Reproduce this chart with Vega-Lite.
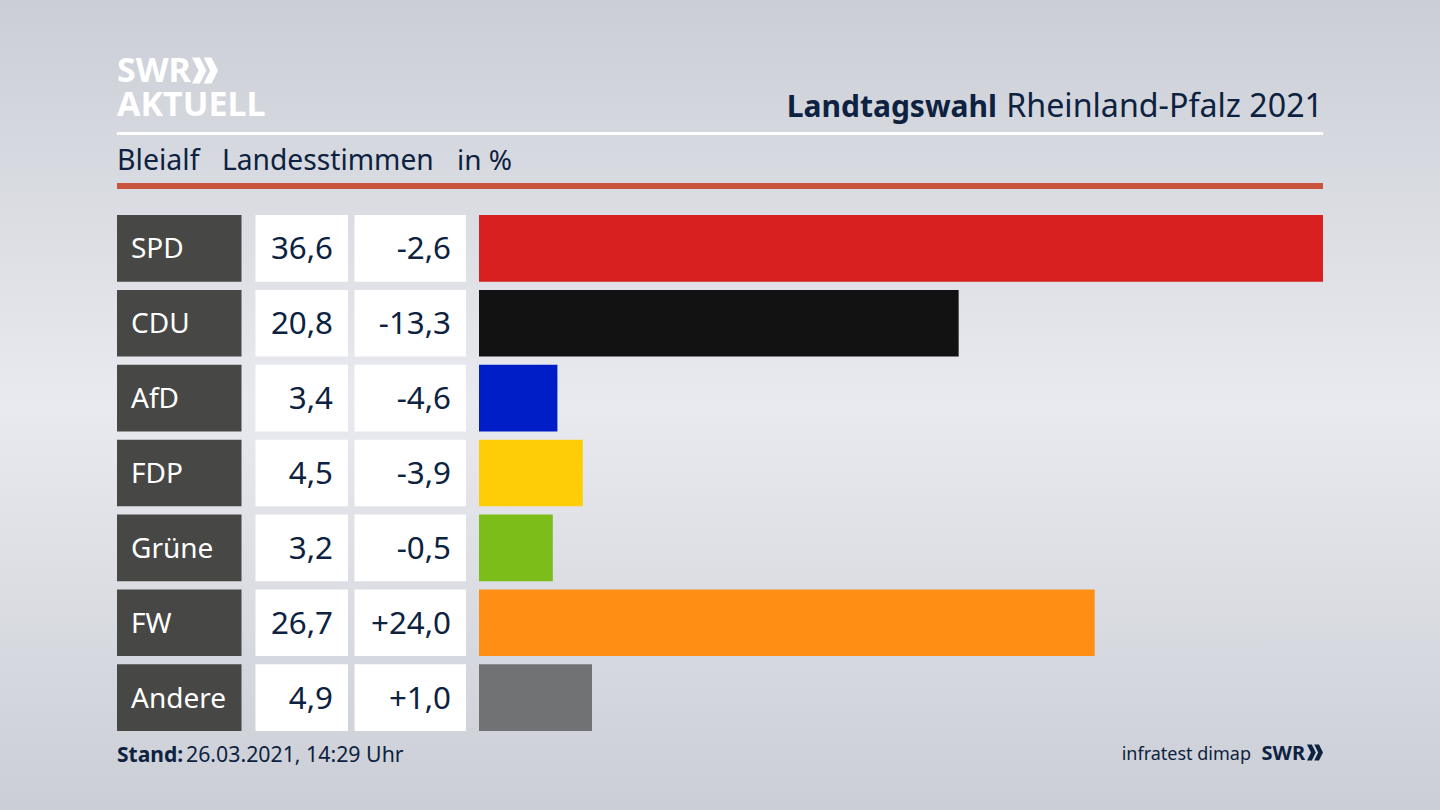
{
  "$schema": "https://vega.github.io/schema/vega-lite/v6.json",
  "width": 1440,
  "height": 810,
  "padding": 0,
  "autosize": {"type": "fit", "contains": "padding"},
  "view": {"stroke": null, "fill": {"gradient": "linear", "x1": 0, "y1": 0, "x2": 0, "y2": 1, "stops": [{"offset": 0, "color": "#cbced6"}, {"offset": 0.5, "color": "#e9eaef"}, {"offset": 1, "color": "#cbced6"}]}},
  "config": {
    "axis": {"disable": true},
    "locale": {"number": {"decimal": ",", "thousands": ".", "grouping": [3], "currency": ["", " €"], "minus": "-"}},
    "text": {"font": "Noto Sans", "color": "#0d2240"}
  },
  "data": {"values": [
    {"partei": "SPD", "ergebnis": 36.6, "diff": -2.6},
    {"partei": "CDU", "ergebnis": 20.8, "diff": -13.3},
    {"partei": "AfD", "ergebnis": 3.4, "diff": -4.6},
    {"partei": "FDP", "ergebnis": 4.5, "diff": -3.9},
    {"partei": "Grüne", "ergebnis": 3.2, "diff": -0.5},
    {"partei": "FW", "ergebnis": 26.7, "diff": 24.0},
    {"partei": "Andere", "ergebnis": 4.9, "diff": 1.0}
  ]},
  "resolve": {"scale": {"x": "independent", "y": "independent", "color": "independent", "shape": "independent", "size": "independent"}},
  "layer": [
    {
      "mark": {"type": "bar", "color": "#474745"},
      "encoding": {
        "x": {"datum": 117, "type": "quantitative", "scale": {"domain": [0, 1440]}},
        "x2": {"datum": 241.5},
        "y": {"field": "partei", "type": "nominal", "scale": {"type": "band", "domain": ["SPD", "CDU", "AfD", "FDP", "Grüne", "FW", "Andere"], "range": [215, 731], "paddingInner": 0.11, "paddingOuter": 0}}
      }
    },
    {
      "mark": {"type": "bar", "color": "#ffffff"},
      "encoding": {
        "x": {"datum": 255.5, "type": "quantitative", "scale": {"domain": [0, 1440]}},
        "x2": {"datum": 348},
        "y": {"field": "partei", "type": "nominal", "scale": {"type": "band", "domain": ["SPD", "CDU", "AfD", "FDP", "Grüne", "FW", "Andere"], "range": [215, 731], "paddingInner": 0.11, "paddingOuter": 0}}
      }
    },
    {
      "mark": {"type": "bar", "color": "#ffffff"},
      "encoding": {
        "x": {"datum": 354.5, "type": "quantitative", "scale": {"domain": [0, 1440]}},
        "x2": {"datum": 466},
        "y": {"field": "partei", "type": "nominal", "scale": {"type": "band", "domain": ["SPD", "CDU", "AfD", "FDP", "Grüne", "FW", "Andere"], "range": [215, 731], "paddingInner": 0.11, "paddingOuter": 0}}
      }
    },
    {
      "mark": {"type": "bar"},
      "encoding": {
        "x": {"field": "ergebnis", "type": "quantitative", "scale": {"domain": [0, 36.6], "range": [479, 1323]}},
        "y": {"field": "partei", "type": "nominal", "scale": {"type": "band", "domain": ["SPD", "CDU", "AfD", "FDP", "Grüne", "FW", "Andere"], "range": [215, 731], "paddingInner": 0.11, "paddingOuter": 0}},
        "color": {"field": "partei", "type": "nominal", "legend": null, "scale": {"domain": ["SPD", "CDU", "AfD", "FDP", "Grüne", "FW", "Andere"], "range": ["#d7201f", "#121212", "#001ec8", "#ffcd08", "#7cbd1a", "#ff8f14", "#717274"]}}
      }
    },
    {
      "mark": {"type": "text", "align": "left", "baseline": "middle", "dy": 2, "fontSize": 28, "color": "#ffffff"},
      "encoding": {
        "x": {"datum": 131, "type": "quantitative", "scale": {"domain": [0, 1440]}},
        "y": {"field": "partei", "type": "nominal", "scale": {"type": "band", "domain": ["SPD", "CDU", "AfD", "FDP", "Grüne", "FW", "Andere"], "range": [215, 731], "paddingInner": 0.11, "paddingOuter": 0}},
        "text": {"field": "partei", "type": "nominal"}
      }
    },
    {
      "mark": {"type": "text", "align": "right", "baseline": "middle", "dy": 2, "fontSize": 31.3},
      "encoding": {
        "x": {"datum": 333, "type": "quantitative", "scale": {"domain": [0, 1440]}},
        "y": {"field": "partei", "type": "nominal", "scale": {"type": "band", "domain": ["SPD", "CDU", "AfD", "FDP", "Grüne", "FW", "Andere"], "range": [215, 731], "paddingInner": 0.11, "paddingOuter": 0}},
        "text": {"field": "ergebnis", "type": "quantitative", "format": ".1f"}
      }
    },
    {
      "mark": {"type": "text", "align": "right", "baseline": "middle", "dy": 2, "fontSize": 31.3},
      "encoding": {
        "x": {"datum": 451, "type": "quantitative", "scale": {"domain": [0, 1440]}},
        "y": {"field": "partei", "type": "nominal", "scale": {"type": "band", "domain": ["SPD", "CDU", "AfD", "FDP", "Grüne", "FW", "Andere"], "range": [215, 731], "paddingInner": 0.11, "paddingOuter": 0}},
        "text": {"field": "diff", "type": "quantitative", "format": "+.1f"}
      }
    },
    {
      "data": {"values": [{"linie": "weiss"}]},
      "mark": {"type": "rule", "color": "#ffffff", "strokeWidth": 3},
      "encoding": {
        "x": {"datum": 117, "type": "quantitative", "scale": {"domain": [0, 1440]}},
        "x2": {"datum": 1323},
        "y": {"datum": 133.5, "type": "quantitative", "scale": {"domain": [810, 0]}}
      }
    },
    {
      "data": {"values": [{"linie": "rot"}]},
      "mark": {"type": "rule", "color": "#c9533c", "strokeWidth": 6},
      "encoding": {
        "x": {"datum": 117, "type": "quantitative", "scale": {"domain": [0, 1440]}},
        "x2": {"datum": 1323},
        "y": {"datum": 186, "type": "quantitative", "scale": {"domain": [810, 0]}}
      }
    },
    {
      "data": {"values": [{"t": "SWR"}]},
      "mark": {"type": "text", "align": "left", "baseline": "alphabetic", "fontSize": 34, "fontWeight": "bold", "color": "#ffffff"},
      "encoding": {
        "x": {"datum": 117, "type": "quantitative", "scale": {"domain": [0, 1440]}},
        "y": {"datum": 82, "type": "quantitative", "scale": {"domain": [810, 0]}},
        "text": {"field": "t"}
      }
    },
    {
      "data": {"values": [{"t": "AKTUELL"}]},
      "mark": {"type": "text", "align": "left", "baseline": "alphabetic", "fontSize": 34, "fontWeight": "bold", "color": "#ffffff"},
      "encoding": {
        "x": {"datum": 117, "type": "quantitative", "scale": {"domain": [0, 1440]}},
        "y": {"datum": 116, "type": "quantitative", "scale": {"domain": [810, 0]}},
        "text": {"field": "t"}
      }
    },
    {
      "data": {"values": [{"logo": "oben"}]},
      "mark": {"type": "point", "filled": true, "opacity": 1, "color": "#ffffff", "strokeWidth": 0, "size": 676, "shape": "M-1,-1 L-0.4,-1 L0.1,0 L-0.4,1 L-1,1 L-0.5,0 Z M-0.1,-1 L0.5,-1 L1,0 L0.5,1 L-0.1,1 L0.4,0 Z"},
      "encoding": {
        "x": {"datum": 205, "type": "quantitative", "scale": {"domain": [0, 1440]}},
        "y": {"datum": 70.5, "type": "quantitative", "scale": {"domain": [810, 0]}}
      }
    },
    {
      "data": {"values": [{"t": "Landtagswahl"}]},
      "mark": {"type": "text", "align": "right", "baseline": "alphabetic", "fontSize": 30, "fontWeight": "bold"},
      "encoding": {
        "x": {"datum": 997, "type": "quantitative", "scale": {"domain": [0, 1440]}},
        "y": {"datum": 117, "type": "quantitative", "scale": {"domain": [810, 0]}},
        "text": {"field": "t"}
      }
    },
    {
      "data": {"values": [{"t": "Rheinland-Pfalz 2021"}]},
      "mark": {"type": "text", "align": "right", "baseline": "alphabetic", "fontSize": 32.2},
      "encoding": {
        "x": {"datum": 1323, "type": "quantitative", "scale": {"domain": [0, 1440]}},
        "y": {"datum": 117, "type": "quantitative", "scale": {"domain": [810, 0]}},
        "text": {"field": "t"}
      }
    },
    {
      "data": {"values": [{"t": "Bleialf"}]},
      "mark": {"type": "text", "align": "left", "baseline": "alphabetic", "fontSize": 28.5},
      "encoding": {
        "x": {"datum": 117, "type": "quantitative", "scale": {"domain": [0, 1440]}},
        "y": {"datum": 170, "type": "quantitative", "scale": {"domain": [810, 0]}},
        "text": {"field": "t"}
      }
    },
    {
      "data": {"values": [{"t": "Landesstimmen"}]},
      "mark": {"type": "text", "align": "left", "baseline": "alphabetic", "fontSize": 28.2},
      "encoding": {
        "x": {"datum": 222, "type": "quantitative", "scale": {"domain": [0, 1440]}},
        "y": {"datum": 170, "type": "quantitative", "scale": {"domain": [810, 0]}},
        "text": {"field": "t"}
      }
    },
    {
      "data": {"values": [{"t": "in %"}]},
      "mark": {"type": "text", "align": "left", "baseline": "alphabetic", "fontSize": 28},
      "encoding": {
        "x": {"datum": 457, "type": "quantitative", "scale": {"domain": [0, 1440]}},
        "y": {"datum": 170, "type": "quantitative", "scale": {"domain": [810, 0]}},
        "text": {"field": "t"}
      }
    },
    {
      "data": {"values": [{"t": "Stand:"}]},
      "mark": {"type": "text", "align": "left", "baseline": "alphabetic", "fontSize": 21, "fontWeight": "bold"},
      "encoding": {
        "x": {"datum": 117, "type": "quantitative", "scale": {"domain": [0, 1440]}},
        "y": {"datum": 762, "type": "quantitative", "scale": {"domain": [810, 0]}},
        "text": {"field": "t"}
      }
    },
    {
      "data": {"values": [{"t": "26.03.2021, 14:29 Uhr"}]},
      "mark": {"type": "text", "align": "left", "baseline": "alphabetic", "fontSize": 21.3},
      "encoding": {
        "x": {"datum": 186, "type": "quantitative", "scale": {"domain": [0, 1440]}},
        "y": {"datum": 762, "type": "quantitative", "scale": {"domain": [810, 0]}},
        "text": {"field": "t"}
      }
    },
    {
      "data": {"values": [{"t": "infratest dimap"}]},
      "mark": {"type": "text", "align": "right", "baseline": "alphabetic", "fontSize": 18},
      "encoding": {
        "x": {"datum": 1251, "type": "quantitative", "scale": {"domain": [0, 1440]}},
        "y": {"datum": 760, "type": "quantitative", "scale": {"domain": [810, 0]}},
        "text": {"field": "t"}
      }
    },
    {
      "data": {"values": [{"t": "SWR"}]},
      "mark": {"type": "text", "align": "right", "baseline": "alphabetic", "fontSize": 20, "fontWeight": "bold"},
      "encoding": {
        "x": {"datum": 1305, "type": "quantitative", "scale": {"domain": [0, 1440]}},
        "y": {"datum": 760, "type": "quantitative", "scale": {"domain": [810, 0]}},
        "text": {"field": "t"}
      }
    },
    {
      "data": {"values": [{"logo": "unten"}]},
      "mark": {"type": "point", "filled": true, "opacity": 1, "color": "#0d2240", "strokeWidth": 0, "size": 256, "shape": "M-1,-1 L-0.4,-1 L0.1,0 L-0.4,1 L-1,1 L-0.5,0 Z M-0.1,-1 L0.5,-1 L1,0 L0.5,1 L-0.1,1 L0.4,0 Z"},
      "encoding": {
        "x": {"datum": 1315, "type": "quantitative", "scale": {"domain": [0, 1440]}},
        "y": {"datum": 752.5, "type": "quantitative", "scale": {"domain": [810, 0]}}
      }
    }
  ]
}
